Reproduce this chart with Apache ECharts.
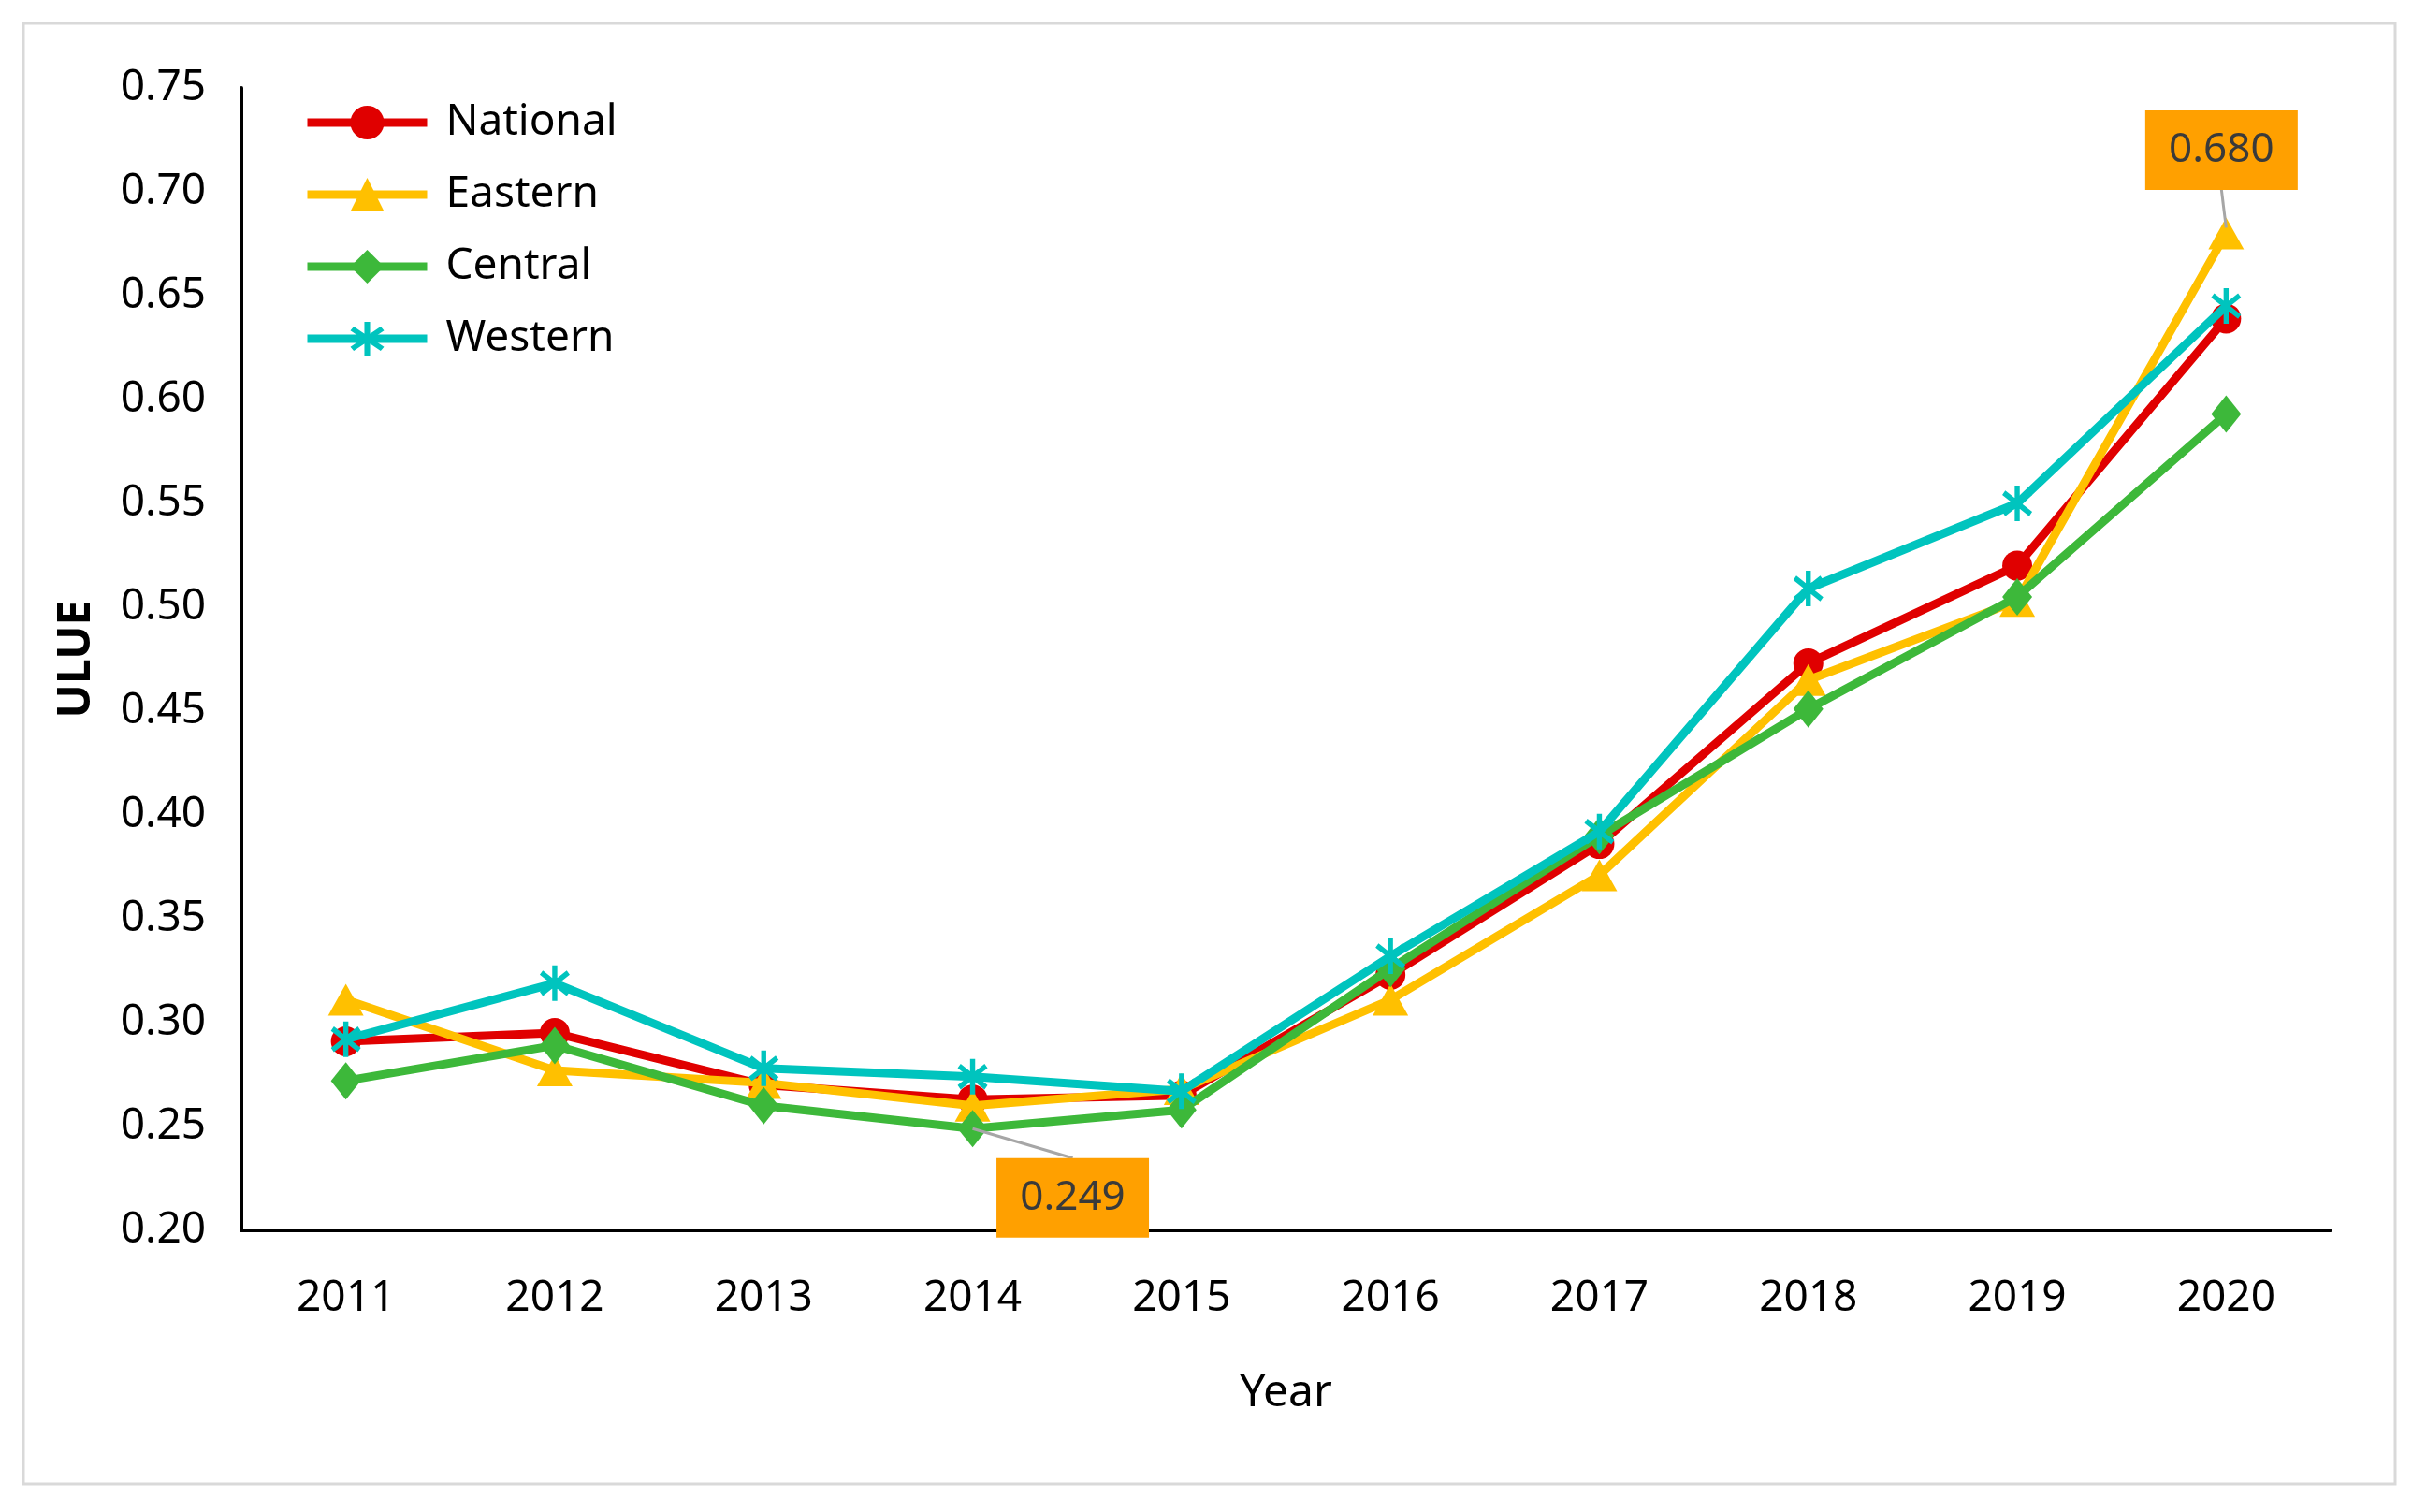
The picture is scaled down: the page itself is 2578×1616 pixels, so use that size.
<!DOCTYPE html>
<html>
<head>
<meta charset="utf-8">
<script src="https://cdn.jsdelivr.net/npm/echarts@6/dist/echarts.min.js"></script>
<style>
  html, body { margin: 0; padding: 0; background: #fff; }
  #chart { width: 2578px; height: 1616px; }
</style>
</head>
<body>
<div id="chart"></div>
<script>
const years = ['2011','2012','2013','2014','2015','2016','2017','2018','2019','2020'];
const national = [0.291, 0.295, 0.270, 0.263, 0.265, 0.323, 0.386, 0.473, 0.520, 0.639];
const eastern  = [0.311, 0.277, 0.271, 0.260, 0.268, 0.311, 0.371, 0.465, 0.503, 0.680];
const central  = [0.272, 0.289, 0.260, 0.249, 0.258, 0.326, 0.390, 0.451, 0.505, 0.593];
const western  = [0.292, 0.319, 0.278, 0.274, 0.267, 0.332, 0.392, 0.509, 0.550, 0.645];
const seriesNames = ['National', 'Eastern', 'Central', 'Western'];
const yTicks = { min: 0.20, max: 0.75, interval: 0.05 };
// annotated points: [series values, year index]
const annotatedPoints = [[eastern, 9], [central, 3]];

const FONT = 'Noto Sans';
const colors = ['#E00000', '#FFC000', '#3DB83A', '#00C4BE'];
const asterisk = 'path://M4.25,0 L5.75,0 L5.75,10 L4.25,10 Z M1.45,1.4 L9.45,7.4 L8.55,8.6 L0.55,2.6 Z M0.55,7.4 L8.55,1.4 L9.45,2.6 L1.45,8.6 Z';
const symbols = ['circle', 'triangle', 'diamond', asterisk];
const symbolSizes = [32, [38, 34], [32, 40], [32, 38]];
const dataSets = [national, eastern, central, western];
// label box offsets (pixels) from the point, one per annotation
const annStyles = [{ dx: -5, dy: -89 }, { dx: 107, dy: 74 }];

function makeSeries(i) {
  return {
    name: seriesNames[i],
    type: 'line',
    data: dataSets[i],
    symbol: symbols[i],
    symbolSize: symbolSizes[i],
    showAllSymbol: true,
    lineStyle: { color: colors[i], width: 9 },
    itemStyle: { color: colors[i] },
    emphasis: { disabled: true },
    z: 2 + i
  };
}

const annotationSeries = {
  type: 'custom',
  coordinateSystem: 'cartesian2d',
  silent: true,
  z: 20,
  data: annotatedPoints.map(([arr, idx]) => [idx, arr[idx]]),
  renderItem: function (params, api) {
    const p = api.coord([api.value(0), api.value(1)]);
    const st = annStyles[params.dataIndex];
    const w = 163, h = 85;
    const cx = p[0] + st.dx, cy = p[1] + st.dy;
    let line;
    if (st.dy < 0) {
      line = { x1: cx, y1: cy + h / 2, x2: p[0], y2: p[1] - 6 };
    } else {
      line = { x1: p[0], y1: p[1], x2: cx, y2: cy - h / 2 };
    }
    return {
      type: 'group',
      children: [
        { type: 'line', shape: line, style: { stroke: '#A6A6A6', lineWidth: 3 } },
        { type: 'rect', shape: { x: cx - w / 2, y: cy - h / 2, width: w, height: h }, style: { fill: '#FFA000' } },
        { type: 'text', style: { x: cx, y: cy, text: api.value(1).toFixed(3), align: 'center', verticalAlign: 'middle',
          fill: '#3a3a3a', fontSize: 44, fontFamily: FONT } }
      ]
    };
  }
};

const chart = echarts.init(document.getElementById('chart'));
chart.setOption({
  animation: false,
  backgroundColor: '#ffffff',
  graphic: [{
    type: 'rect',
    shape: { x: 25, y: 25, width: 2535, height: 1561 },
    style: { fill: 'none', stroke: '#D9D9D9', lineWidth: 3 },
    silent: true,
    z: -10
  }],
  grid: { left: 258, right: 87, top: 94, bottom: 301 },
  legend: {
    orient: 'vertical',
    left: 319,
    top: 103,
    itemWidth: 128,
    itemHeight: 45,
    itemGap: 31,
    data: seriesNames,
    lineStyle: { width: 9 },
    textStyle: { fontFamily: FONT, fontSize: 46, color: '#000', padding: [0, 0, 0, 15] }
  },
  xAxis: {
    type: 'category',
    data: years,
    boundaryGap: true,
    name: 'Year',
    nameLocation: 'middle',
    nameGap: 150,
    nameTextStyle: { fontFamily: FONT, fontSize: 48, color: '#000' },
    axisLine: { show: true, lineStyle: { color: '#000', width: 4 } },
    axisTick: { show: false },
    axisLabel: { fontFamily: FONT, fontSize: 46, color: '#000', margin: 50 },
    splitLine: { show: false }
  },
  yAxis: {
    type: 'value',
    min: yTicks.min,
    max: yTicks.max,
    interval: yTicks.interval,
    name: 'ULUE',
    nameLocation: 'middle',
    nameGap: 152,
    nameTextStyle: { fontFamily: FONT, fontSize: 48, fontWeight: 'bold', color: '#000' },
    axisLine: { show: true, lineStyle: { color: '#000', width: 4 } },
    axisTick: { show: false },
    axisLabel: { fontFamily: FONT, fontSize: 46, color: '#000', margin: 38, formatter: (v) => v.toFixed(2) },
    splitLine: { show: false }
  },
  series: seriesNames.map((_, i) => makeSeries(i)).concat([annotationSeries])
});
</script>
</body>
</html>
